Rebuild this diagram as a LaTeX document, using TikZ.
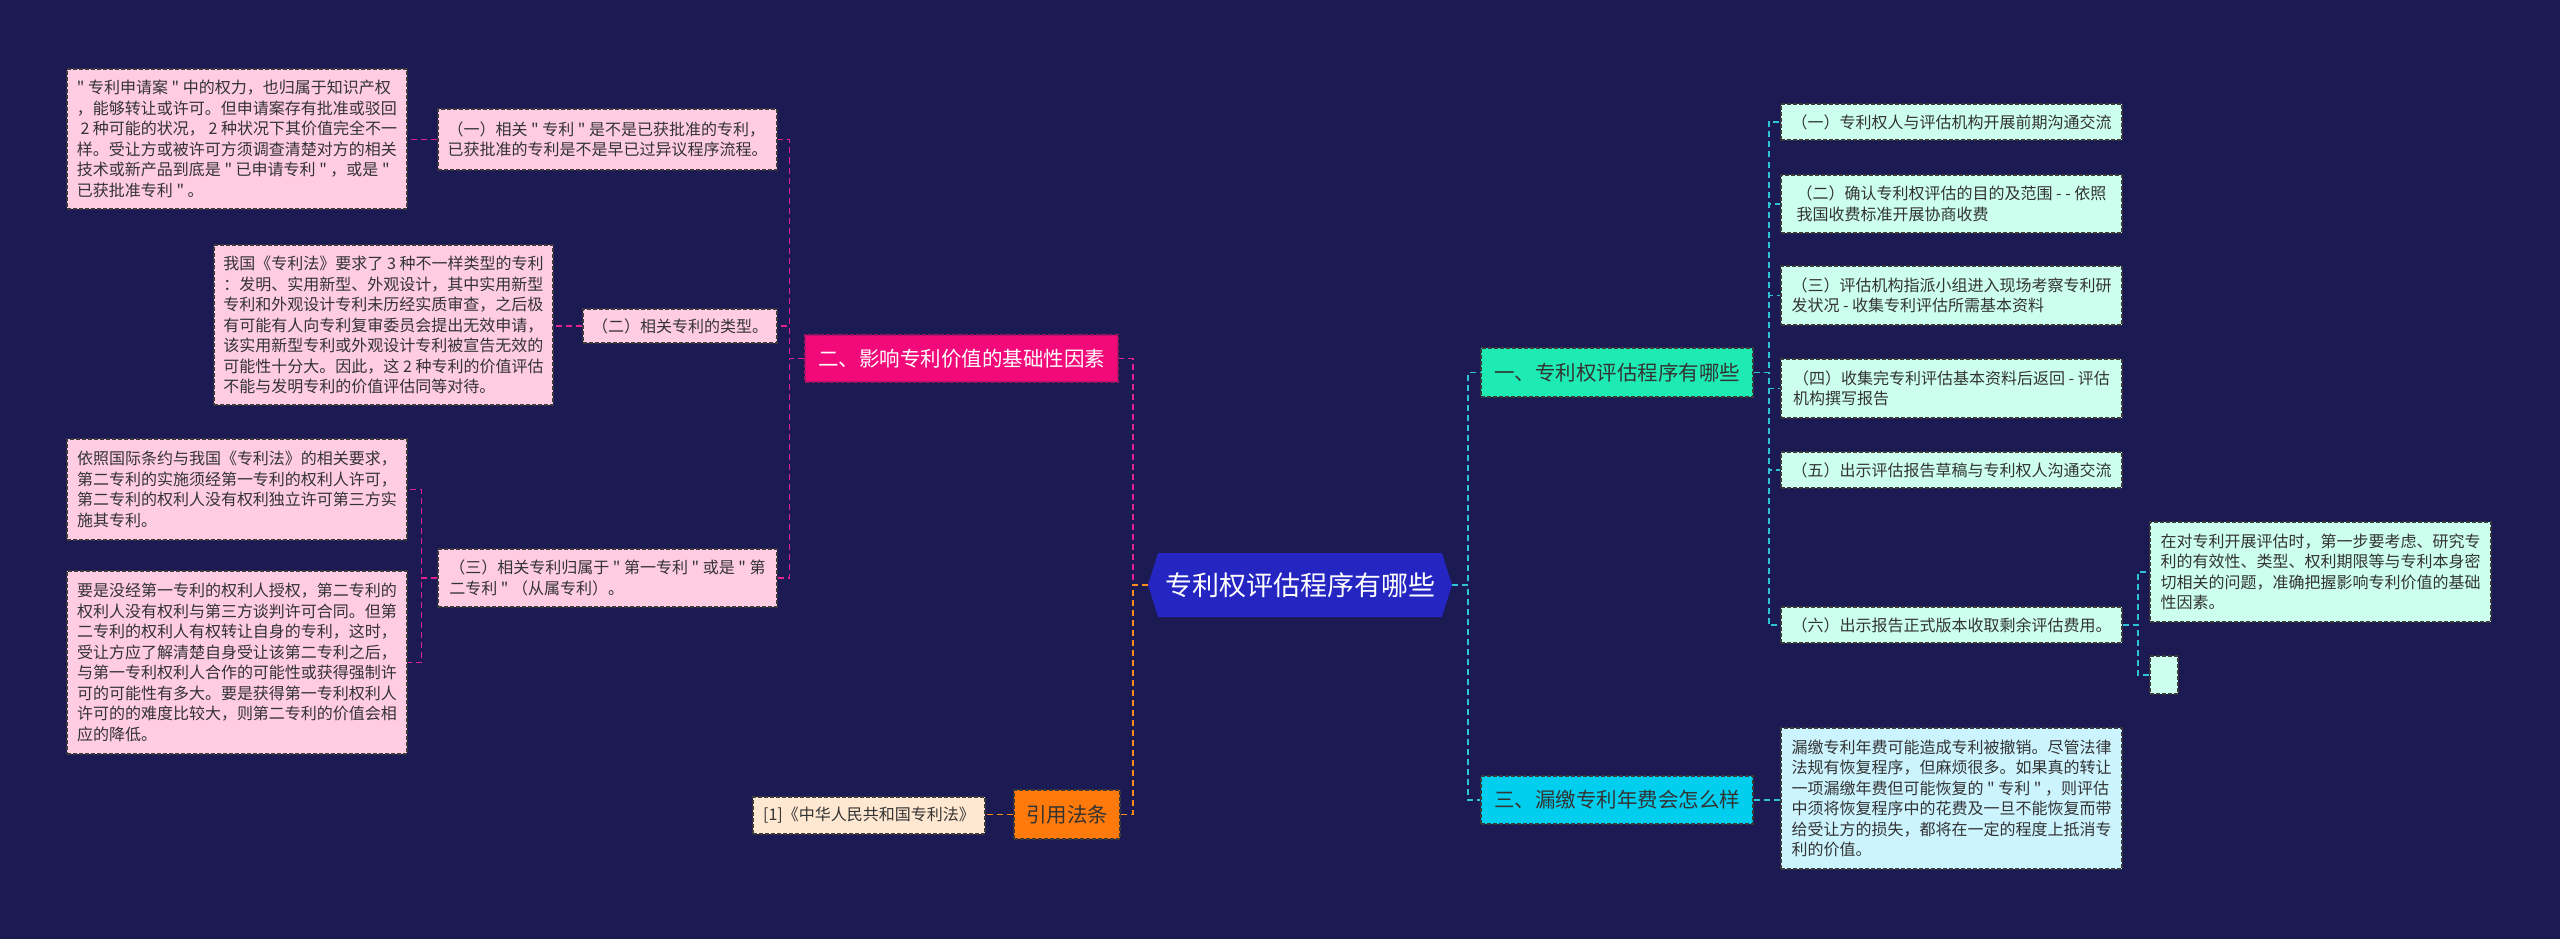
\documentclass[tikz,border=0pt]{standalone}
\usepackage{fontspec}
\newfontfamily\cjk{Noto Sans CJK SC}
\usetikzlibrary{shapes.symbols}
\definecolor{bg}{HTML}{1B1A52}
\definecolor{pinkleaf}{HTML}{FFCCE2}
\definecolor{pinkmain}{HTML}{F20A7A}
\definecolor{pinkline}{HTML}{E6208C}
\definecolor{orangemain}{HTML}{FF7A0A}
\definecolor{orangeline}{HTML}{FF8C1A}
\definecolor{orangeleaf}{HTML}{FFE8D2}
\definecolor{centerblue}{HTML}{2526C2}
\definecolor{mintmain}{HTML}{1EEBB4}
\definecolor{mintleaf}{HTML}{CCFFEE}
\definecolor{cyanmain}{HTML}{00CEEE}
\definecolor{cyanleaf}{HTML}{CCF4FF}
\definecolor{cyanline}{HTML}{2EC4D6}
\definecolor{txt}{HTML}{333333}
\definecolor{bord}{HTML}{3A3A3A}
\begin{document}
\begin{tikzpicture}[x=1pt,y=-1pt,
  boxbase/.style={inner xsep=8pt, inner ysep=0pt, draw=bord, dash pattern=on 4pt off 2pt, line width=1.2pt},
  leaf/.style={boxbase, align=left, text=txt, font=\cjk\fontsize{16}{20.5}\selectfont},
  pleaf/.style={leaf, fill=pinkleaf},
  rleaf/.style={leaf, fill=mintleaf},
  cleaf/.style={leaf, fill=cyanleaf},
  oleaf/.style={leaf, fill=orangeleaf},
  mainbox/.style={boxbase, inner xsep=0pt, align=center, font=\cjk\fontsize{20.5}{24}\selectfont},
  conn/.style={line width=1.8pt, dash pattern=on 6pt off 4pt},
  pline/.style={conn, draw=pinkline},
  oline/.style={conn, draw=orangeline},
  cline/.style={conn, draw=cyanline}
]
\useasboundingbox (0,0) rectangle (2560,939);
\fill[bg] (0,0) rectangle (2560,939);

% central node
\node[signal, signal to=east and west, signal pointer angle=145, fill=centerblue,
  minimum width=304pt, minimum height=64pt, inner sep=0pt, text=white,
  font=\cjk\fontsize{27}{32}\selectfont] (C) at (1300,585) {专利权评估程序有哪些};

% left pink branch
\node[mainbox, fill=pinkmain, draw=pinkline!70!black, text=white, minimum width=313pt, minimum height=47pt] (P) at (961.5,358.5) {二、影响专利价值的基础性因素};

\node[pleaf, minimum width=339pt, minimum height=61pt] (B1) at (607.5,139.5) {（一）相关 " 专利 " 是不是已获批准的专利，\\已获批准的专利是不是早已过异议程序流程。};
\node[pleaf, minimum width=194pt, minimum height=34pt] (B2) at (680,326) {（二）相关专利的类型。};
\node[pleaf, minimum width=339pt, minimum height=58pt] (B3) at (607.5,578) {（三）相关专利归属于 " 第一专利 " 或是 " 第\\二专利 " （从属专利）。};

\node[pleaf, minimum width=340pt, minimum height=140pt] (A1) at (237,139) {" 专利申请案 " 中的权力，也归属于知识产权\\，能够转让或许可。但申请案存有批准或驳回\\\ 2 种可能的状况， 2 种状况下其价值完全不一\\样。受让方或被许可方须调查清楚对方的相关\\技术或新产品到底是 " 已申请专利 " ，或是 "\\已获批准专利 " 。};
\node[pleaf, minimum width=339pt, minimum height=160pt] (A2) at (383.5,325) {我国《专利法》要求了 3 种不一样类型的专利\\：发明、实用新型、外观设计，其中实用新型\\专利和外观设计专利未历经实质审查，之后极\\有可能有人向专利复审委员会提出无效申请，\\该实用新型专利或外观设计专利被宣告无效的\\可能性十分大。因此，这 2 种专利的价值评估\\不能与发明专利的价值评估同等对待。};
\node[pleaf, minimum width=340pt, minimum height=101pt] (A3) at (237,489.5) {依照国际条约与我国《专利法》的相关要求，\\第二专利的实施须经第一专利的权利人许可，\\第二专利的权利人没有权利独立许可第三方实\\施其专利。};
\node[pleaf, minimum width=340pt, minimum height=183pt] (A4) at (237,662.5) {要是没经第一专利的权利人授权，第二专利的\\权利人没有权利与第三方谈判许可合同。但第\\二专利的权利人有权转让自身的专利，这时，\\受让方应了解清楚自身受让该第二专利之后，\\与第一专利权利人合作的可能性或获得强制许\\可的可能性有多大。要是获得第一专利权利人\\许可的的难度比较大，则第二专利的价值会相\\应的降低。};

% orange branch
\node[mainbox, fill=orangemain, text=txt, minimum width=106pt, minimum height=49pt] (O) at (1067,814.5) {引用法条};
\node[oleaf, minimum width=232pt, minimum height=37pt] (O1) at (869,815.5) {[1]《中华人民共和国专利法》};

% right branches
\node[mainbox, fill=mintmain, text=txt, minimum width=272pt, minimum height=49pt] (G1) at (1617,372.5) {一、专利权评估程序有哪些};
\node[mainbox, fill=cyanmain, text=txt, minimum width=272pt, minimum height=48pt] (G3) at (1617,800) {三、漏缴专利年费会怎么样};

\node[rleaf, minimum width=341pt, minimum height=36pt] (R1) at (1951.5,122) {（一）专利权人与评估机构开展前期沟通交流};
\node[rleaf, minimum width=341pt, minimum height=58pt] (R2) at (1951.5,204) {（二）确认专利权评估的目的及范围 - - 依照\\我国收费标准开展协商收费};
\node[rleaf, minimum width=341pt, minimum height=59pt] (R3) at (1951.5,295.5) {（三）评估机构指派小组进入现场考察专利研\\发状况 - 收集专利评估所需基本资料};
\node[rleaf, minimum width=341pt, minimum height=59pt] (R4) at (1951.5,388.5) {（四）收集完专利评估基本资料后返回 - 评估\\机构撰写报告};
\node[rleaf, minimum width=341pt, minimum height=36pt] (R5) at (1951.5,470) {（五）出示评估报告草稿与专利权人沟通交流};
\node[rleaf, minimum width=341pt, minimum height=36pt] (R6) at (1951.5,625) {（六）出示报告正式版本收取剩余评估费用。};

\node[rleaf, minimum width=341pt, minimum height=100pt] (S1) at (2320.5,572) {在对专利开展评估时，第一步要考虑、研究专\\利的有效性、类型、权利期限等与专利本身密\\切相关的问题，准确把握影响专利价值的基础\\性因素。};
\node[rleaf, inner xsep=0pt, minimum width=28pt, minimum height=38pt] (S2) at (2164,675) {};

\node[cleaf, minimum width=341pt, minimum height=141pt] (T1) at (1951.5,798.5) {漏缴专利年费可能造成专利被撤销。尽管法律\\法规有恢复程序，但麻烦很多。如果真的转让\\一项漏缴年费但可能恢复的 " 专利 " ，则评估\\中须将恢复程序中的花费及一旦不能恢复而带\\给受让方的损失，都将在一定的程度上抵消专\\利的价值。};

% connectors
\draw[pline] (C.west) -- ++(-15,0) |- (P.east);
\draw[oline] (C.west) -- ++(-15,0) |- (O.east);
\draw[oline] (O.west) -- (O.west -| O1.east);
\foreach \n in {B1,B2,B3} \draw[pline] (P.west) -- ++(-15,0) |- (\n.east);
\draw[pline] (B1.west) -- (B1.west -| A1.east);
\draw[pline] (B2.west) -- (B2.west -| A2.east);
\draw[pline] (B3.west) -- ++(-16,0) |- (A3.east);
\draw[pline] (B3.west) -- ++(-16,0) |- (A4.east);

\draw[cline] (C.east) -- ++(16,0) |- (G1.west);
\draw[cline] (C.east) -- ++(16,0) |- (G3.west);
\foreach \n in {R1,R2,R3,R4,R5,R6} \draw[cline] (G1.east) -- ++(15,0) |- (\n.west);
\draw[cline] (R6.east) -- ++(15,0) |- (S1.west);
\draw[cline] (R6.east) -- ++(15,0) |- (S2.west);
\draw[cline] (G3.east) -- (G3.east -| T1.west);
\end{tikzpicture}
\end{document}
